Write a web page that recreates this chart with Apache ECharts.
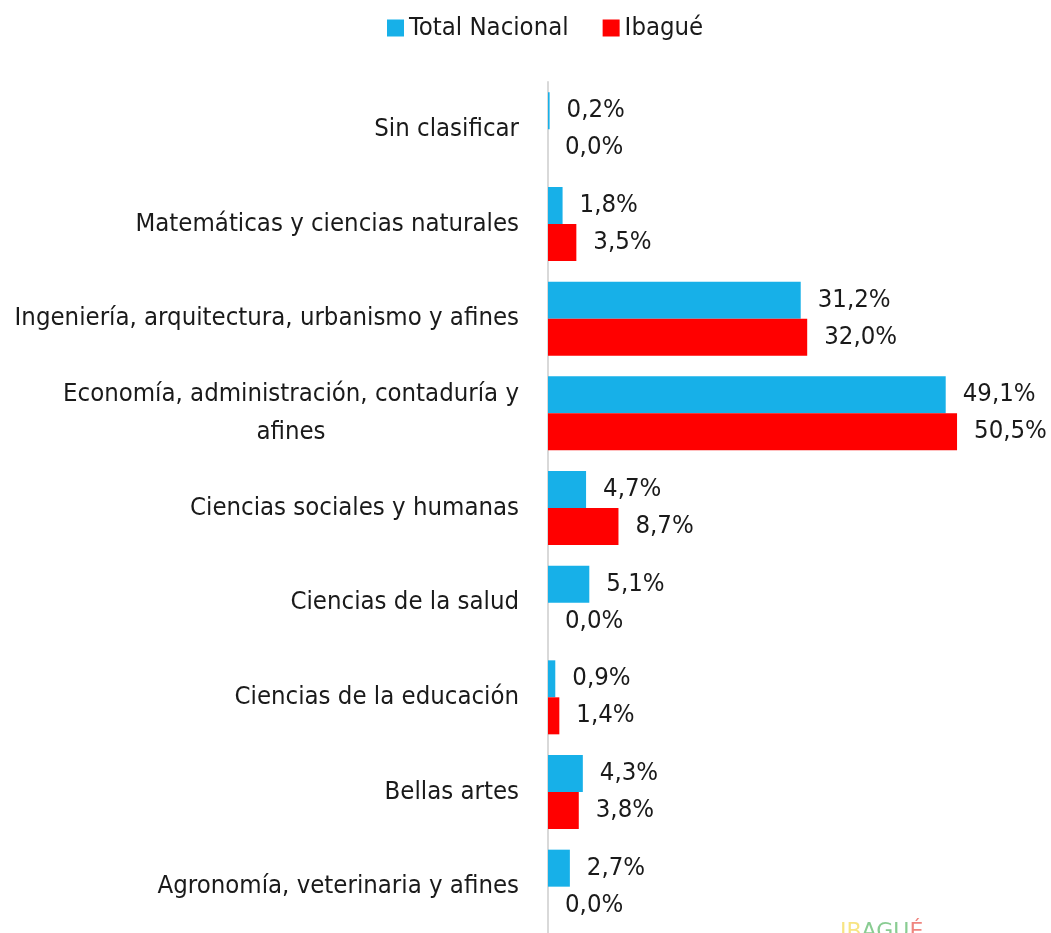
<!DOCTYPE html>
<html>
<head>
<meta charset="utf-8">
<script src="https://cdn.jsdelivr.net/npm/echarts@6/dist/echarts.min.js"></script>
<style>
  html, body { margin: 0; padding: 0; background: #fff; }
  #chart { width: 1051px; height: 933px; }
</style>
</head>
<body>
<div id="chart"></div>
<script>
// 数据（从上到下）
const categories = [
    'Sin clasificar',
    'Matemáticas y ciencias naturales',
    'Ingeniería, arquitectura, urbanismo y afines',
    'Economía, administración, contaduría y afines',
    'Ciencias sociales y humanas',
    'Ciencias de la salud',
    'Ciencias de la educación',
    'Bellas artes',
    'Agronomía, veterinaria y afines'
];
const totalNacional = [0.2, 1.8, 31.2, 49.1, 4.7, 5.1, 0.9, 4.3, 2.7];
const ibague = [0.0, 3.5, 32.0, 50.5, 8.7, 0.0, 1.4, 3.8, 0.0];
const seriesNames = ['Total Nacional', 'Ibagué'];

const FONT = '"DejaVu Sans Condensed", "Liberation Sans Narrow", sans-serif';
const FONT_SIZE = 25.5;

// 长标签换行，两行居中
const ctx = document.createElement('canvas').getContext('2d');
ctx.font = FONT_SIZE + 'px ' + FONT;
const longLabel = 'Economía, administración, contaduría y';
const longWidth = Math.ceil(ctx.measureText(longLabel).width);

function pct(v) {
    return v.toFixed(1).replace('.', ',') + '%';
}

const option = {
    animation: false,
    legend: {
        top: 10,
        left: 382,
        itemWidth: 17,
        itemHeight: 17,
        itemGap: 34,
        icon: 'rect',
        textStyle: { fontFamily: FONT, fontSize: FONT_SIZE, color: '#1a1a1a' },
        data: seriesNames
    },
    grid: { left: 548, right: 17, top: 82, bottom: -1, containLabel: false, outerBoundsMode: 'none' },
    xAxis: { type: 'value', min: 0, max: 60, show: false },
    yAxis: {
        type: 'category',
        inverse: true,
        data: categories,
        axisLine: { show: true, lineStyle: { color: '#d9d9d9', width: 2 } },
        axisTick: { show: false },
        axisLabel: {
            margin: 29,
            fontFamily: FONT,
            fontSize: FONT_SIZE,
            color: '#1a1a1a',
            lineHeight: 38,
            formatter: function (v) {
                if (v.indexOf('Economía') === 0) {
                    return '{c|' + longLabel + '}\n{c|afines}';
                }
                return v;
            },
            rich: {
                c: { width: longWidth, align: 'center', fontFamily: FONT, fontSize: FONT_SIZE, color: '#1a1a1a', lineHeight: 38 }
            }
        }
    },
    series: [
        {
            name: seriesNames[0],
            type: 'bar',
            data: totalNacional,
            barWidth: 37,
            barGap: '0%',
            itemStyle: { color: '#17b0e8' },
            label: {
                show: true, position: 'right', distance: 17,
                fontFamily: FONT, fontSize: FONT_SIZE, color: '#1a1a1a',
                formatter: p => pct(p.value)
            }
        },
        {
            name: seriesNames[1],
            type: 'bar',
            data: ibague,
            barWidth: 37,
            barGap: '0%',
            itemStyle: { color: '#ff0000' },
            label: {
                show: true, position: 'right', distance: 17,
                fontFamily: FONT, fontSize: FONT_SIZE, color: '#1a1a1a',
                formatter: p => pct(p.value)
            }
        }
    ],
    graphic: [
        {
            type: 'text',
            left: 840,
            top: 921,
            style: {
                text: '{y|IB}{g|AGU}{r|É}',
                rich: {
                    y: { fill: '#f2d22e', fontSize: 22, fontFamily: 'DejaVu Sans' },
                    g: { fill: '#3aaa4a', fontSize: 22, fontFamily: 'DejaVu Sans' },
                    r: { fill: '#e5342a', fontSize: 22, fontFamily: 'DejaVu Sans' }
                },
                opacity: 0.6
            }
        }
    ]
};

const chart = echarts.init(document.getElementById('chart'));
chart.setOption(option);
</script>
</body>
</html>
